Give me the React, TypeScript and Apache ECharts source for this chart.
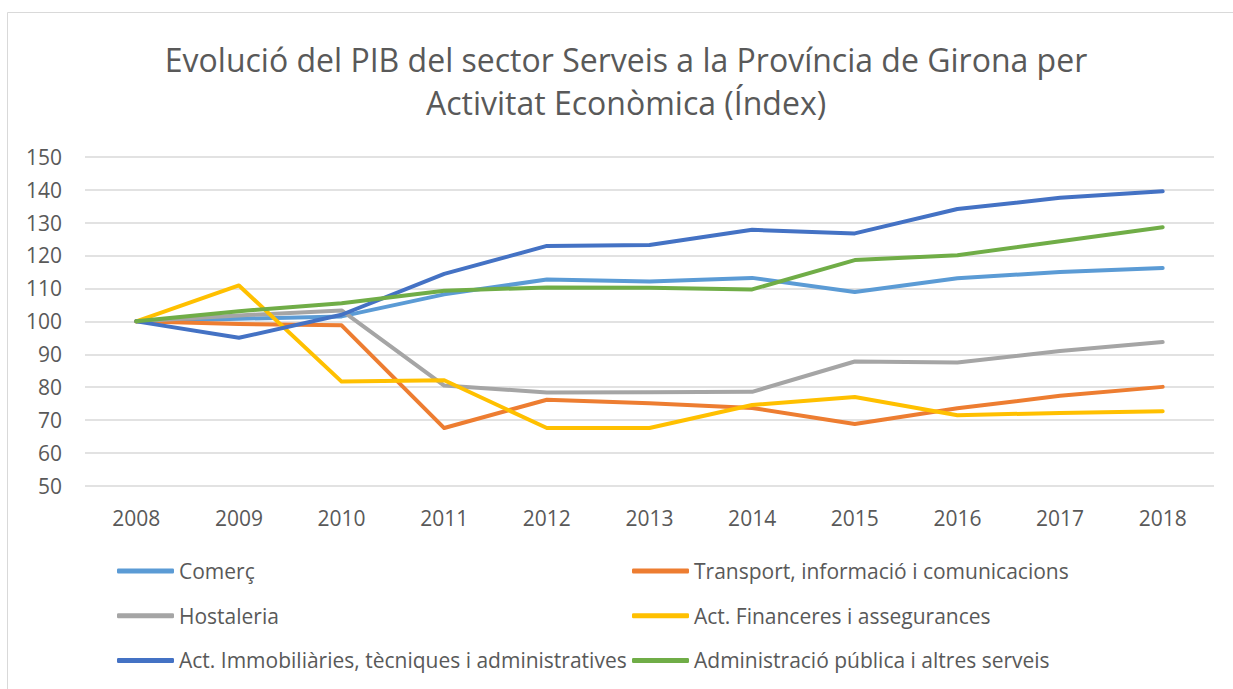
import React, { useEffect, useRef } from "react";
import * as echarts from "echarts";

const years = ["2008", "2009", "2010", "2011", "2012", "2013", "2014", "2015", "2016", "2017", "2018"];
const titleLines = [
  "Evolució del PIB del sector Serveis a la Província de Girona per",
  "Activitat Econòmica (Índex)",
];
const seriesNames = [
  "Comerç",
  "Transport, informació i comunicacions",
  "Hostaleria",
  "Act. Financeres i assegurances",
  "Act. Immobiliàries, tècniques i administratives",
  "Administració pública i altres serveis",
];
const seriesColors = ["#5B9BD5", "#ED7D31", "#A5A5A5", "#FFC000", "#4472C4", "#70AD47"];

const comerc = [100, 100.8, 101.5, 108.2, 112.7, 112.1, 113.2, 108.9, 113.1, 115, 116.2];
const transport = [100, 99.2, 98.8, 67.6, 76.2, 75.1, 73.7, 68.8, 73.6, 77.4, 80.1];
const hostaleria = [100, 101.8, 103.3, 80.5, 78.4, 78.5, 78.6, 87.8, 87.5, 91, 93.7];
const financeres = [100, 110.9, 81.7, 82.1, 67.6, 67.6, 74.6, 77, 71.5, 72.2, 72.7];
const immobiliaries = [100, 95, 102, 114.4, 122.9, 123.2, 127.8, 126.7, 134.1, 137.5, 139.5];
const administracio = [100, 103.1, 105.5, 109.3, 110.3, 110.2, 109.7, 118.6, 120.1, 124.3, 128.6];

const allValues = [comerc, transport, hostaleria, financeres, immobiliaries, administracio];

const FONT = "Open Sans";
const TEXT_COLOR = "#595959";

export default function App() {
  const ref = useRef<HTMLDivElement>(null);
  useEffect(() => {
    if (!ref.current) return;
    const chart = echarts.init(ref.current, null, { renderer: "svg" });
    const legendCommon = {
      orient: "vertical",
      padding: 0,
      itemWidth: 57,
      itemHeight: 5,
      itemGap: 20.7,
      icon: "roundRect",
      textStyle: { color: TEXT_COLOR, fontSize: 21, fontFamily: FONT, lineHeight: 24 },
    };
    chart.setOption({
      animation: false,
      backgroundColor: "#ffffff",
      textStyle: { fontFamily: FONT },
      graphic: [
        {
          type: "rect",
          shape: { x: 7.5, y: 12.5, width: 1400, height: 800 },
          style: { fill: "none", stroke: "#d9d9d9", lineWidth: 1 },
          silent: true,
        },
        {
          type: "text",
          x: 626,
          y: 59,
          style: {
            text: titleLines[0],
            fontSize: 32,
            fontFamily: FONT,
            fill: TEXT_COLOR,
            textAlign: "center",
            textVerticalAlign: "middle",
          },
        },
        {
          type: "text",
          x: 626,
          y: 102.5,
          style: {
            text: titleLines[1],
            fontSize: 32,
            fontFamily: FONT,
            fill: TEXT_COLOR,
            textAlign: "center",
            textVerticalAlign: "middle",
          },
        },
      ],
      grid: { left: 85, right: 19, top: 156.7, bottom: 203, containLabel: false },
      legend: [
        { ...legendCommon, left: 117, top: 559, data: [seriesNames[0], seriesNames[2], seriesNames[4]] },
        { ...legendCommon, left: 632, top: 559, data: [seriesNames[1], seriesNames[3], seriesNames[5]] },
      ],
      xAxis: {
        type: "category",
        data: years,
        boundaryGap: true,
        axisLine: { show: false },
        axisTick: { show: false },
        axisLabel: { color: TEXT_COLOR, fontSize: 21, fontFamily: FONT, margin: 21 },
      },
      yAxis: {
        type: "value",
        min: 50,
        max: 150,
        interval: 10,
        axisLine: { show: false },
        axisTick: { show: false },
        axisLabel: { color: TEXT_COLOR, fontSize: 21, fontFamily: FONT, margin: 23 },
        splitLine: { lineStyle: { color: "#d9d9d9", width: 1.5 } },
      },
      series: seriesNames.map((name, i) => ({
        name,
        type: "line",
        data: allValues[i],
        symbol: "none",
        color: seriesColors[i],
        lineStyle: { width: 4, color: seriesColors[i], cap: "round", join: "round" },
      })),
    });
    return () => chart.dispose();
  }, []);
  return (
    <div
      ref={ref}
      style={{ position: "fixed", left: 0, top: 0, width: 1233, height: 689, background: "#fff" }}
    />
  );
}
